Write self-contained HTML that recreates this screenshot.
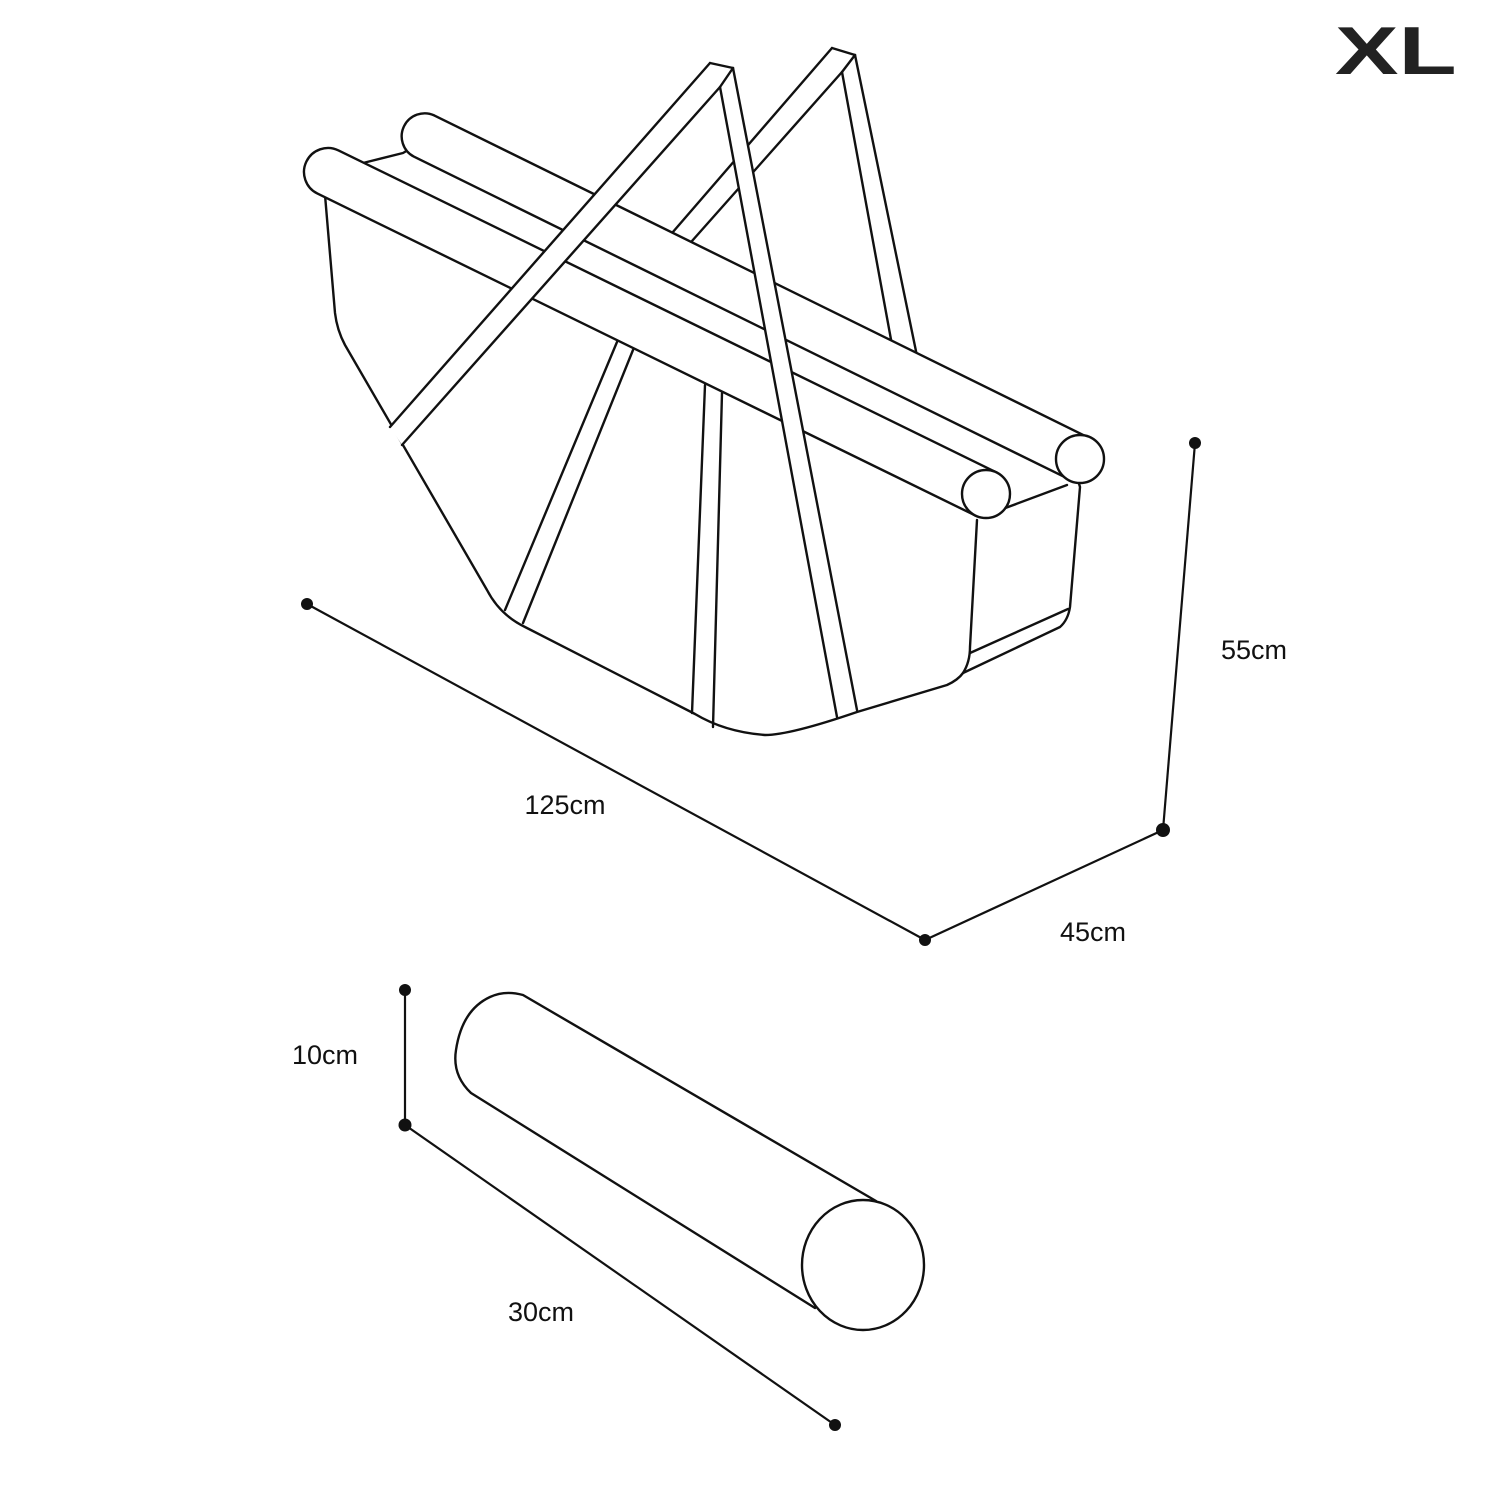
<!DOCTYPE html>
<html><head><meta charset="utf-8"><style>
html,body{margin:0;padding:0;background:#fff;}
svg{display:block}
text{font-family:"Liberation Sans",sans-serif;fill:#111;}
</style></head><body>
<svg width="1500" height="1500" viewBox="0 0 1500 1500" xmlns="http://www.w3.org/2000/svg">
<rect width="1500" height="1500" fill="#fff"/>
<g fill="none" stroke="#111" stroke-width="2.4" stroke-linejoin="round" stroke-linecap="round">
<!-- box body -->
<path fill="#fff" d="M325 195 L335 313 Q337 330 345 345 L487 590 Q500 615 525 627 L695 714 Q725 732 765 735 Q790 735 857 712 L947 685 Q958 680 963 673 L1060 627 Q1068 620 1070 607 L1080 487 L1075 470 L425 140 L403 153 L363 163 Z"/>
<path d="M963 673 Q970 662 970 647 L977 520"/>
<line x1="970" y1="653" x2="1068" y2="609"/>
<line x1="1000" y1="510" x2="1067" y2="485"/>
<!-- poles on box face -->
<line x1="617" y1="342" x2="505" y2="610"/>
<line x1="633" y1="350" x2="523" y2="623"/>
<line x1="705" y1="385" x2="692" y2="713"/>
<line x1="722" y1="393" x2="713" y2="727"/>
<!-- back frame -->
<polygon fill="#fff" stroke="none" points="832,48 855,55 842,72 690,250 668,240"/>
<polygon fill="#fff" stroke="none" points="855,55 842,72 892,350 917,358"/>
<line x1="832" y1="48" x2="666" y2="240"/>
<line x1="842" y1="72" x2="684" y2="250"/>
<line x1="832" y1="48" x2="855" y2="55"/>
<line x1="855" y1="55" x2="842" y2="72"/>
<line x1="855" y1="55" x2="917" y2="356"/>
<line x1="842" y1="72" x2="892" y2="345"/>
<!-- back bolster -->
<path fill="#fff" d="M434.2 115.4 L1090.2 438.4 L1069.8 479.6 L413.8 156.6 A23 23 0 0 1 434.2 115.4 Z"/>
<circle cx="1080" cy="459" r="24" fill="#fff"/>
<!-- front bolster -->
<path fill="#fff" d="M338.5 150.4 L996.5 472.4 L975.5 515.6 L317.5 193.6 A24 24 0 0 1 338.5 150.4 Z"/>
<circle cx="986" cy="494" r="24" fill="#fff"/>
<!-- front frame -->
<polygon fill="#fff" stroke="none" points="710,63 733,68 720,87 402,445 390,427"/>
<polygon fill="#fff" stroke="none" points="733,68 720,87 837,717 857,710"/>
<line x1="710" y1="63" x2="390" y2="427"/>
<line x1="720" y1="87" x2="402" y2="445"/>
<line x1="710" y1="63" x2="733" y2="68"/>
<line x1="733" y1="68" x2="720" y2="87"/>
<line x1="733" y1="68" x2="857" y2="710"/>
<line x1="720" y1="87" x2="837" y2="717"/>
<!-- cylinder -->
<path fill="#fff" stroke="none" d="M523 995 L876 1201 L815 1308 L471 1093 Q452 1075 456 1050 Q462 1010 490 997 Q505 990 523 995 Z"/>
<path d="M876 1201 L523 995 Q505 990 490 997 Q462 1010 456 1050 Q452 1075 471 1093 L815 1308"/>
<ellipse cx="863" cy="1265" rx="61" ry="65" fill="#fff"/>
</g>
<!-- dimension lines -->
<g stroke="#111" stroke-width="2.2" fill="none">
<line x1="307" y1="604" x2="925" y2="940"/>
<line x1="925" y1="940" x2="1163" y2="830"/>
<line x1="1163" y1="830" x2="1195" y2="443"/>
<line x1="405" y1="990" x2="405" y2="1125"/>
<line x1="405" y1="1125" x2="835" y2="1425"/>
</g>
<g fill="#111">
<circle cx="307" cy="604" r="6"/>
<circle cx="925" cy="940" r="6"/>
<circle cx="1163" cy="830" r="7"/>
<circle cx="1195" cy="443" r="6"/>
<circle cx="405" cy="990" r="6"/>
<circle cx="405" cy="1125" r="6.5"/>
<circle cx="835" cy="1425" r="6"/>
</g>
<g font-size="27">
<text x="565" y="814" text-anchor="middle">125cm</text>
<text x="1093" y="941" text-anchor="middle">45cm</text>
<text x="1254" y="659" text-anchor="middle">55cm</text>
<text x="325" y="1064" text-anchor="middle">10cm</text>
<text x="541" y="1321" text-anchor="middle">30cm</text>
</g>
<text x="0" y="0" font-size="68" font-weight="bold" transform="translate(1335,74) scale(1.4,1)" style="fill:#222">XL</text>
</svg>
</body></html>
